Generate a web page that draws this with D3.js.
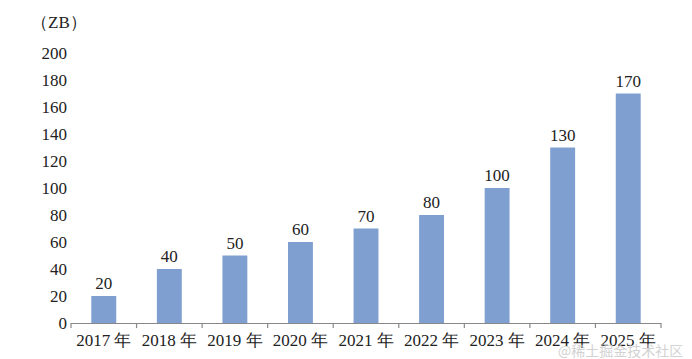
<!DOCTYPE html>
<html><head><meta charset="utf-8">
<script src="https://cdn.jsdelivr.net/npm/d3@7/dist/d3.min.js"></script>
<style>body{margin:0;background:#fff}
.sf{font-family:"Liberation Serif","Times New Roman",Times,"DejaVu Serif",serif;}
.wm{font-family:"Noto Sans CJK SC",sans-serif;}
</style>
</head><body>
<svg id="chart" width="692" height="359"></svg>
<script>
const categories = ["2017 年","2018 年","2019 年","2020 年","2021 年","2022 年","2023 年","2024 年","2025 年"];
const values = [20,40,50,60,70,80,100,130,170];
const yTicks = [0,20,40,60,80,100,120,140,160,180,200];
const unitLabel = "（ZB）";
const watermark = "@稀土掘金技术社区";

(function () {
const svg = d3.select("#chart");
const mLeft = 71, mRight = 661, mTop = 53, mBottom = 323;

const x = d3.scaleBand().domain(categories).range([mLeft, mRight]).paddingInner(0.62).paddingOuter(0.31);
const y = d3.scaleLinear().domain([0, 200]).range([mBottom, mTop]);

svg.append("g").selectAll("text").data(yTicks).join("text").attr("class", "sf")
  .attr("x", mLeft - 4).attr("y", d => y(d)).attr("dy", "0.35em")
  .attr("text-anchor", "end").attr("font-size", 17)
  .attr("fill", "#222").text(d => d);

svg.append("text").attr("class", "sf").attr("x", 31).attr("y", 28)
  .attr("font-size", 17).attr("fill", "#222").text(unitLabel);

svg.append("g").selectAll("rect").data(values).join("rect")
  .attr("x", (d, i) => x(categories[i])).attr("width", x.bandwidth())
  .attr("y", d => y(d)).attr("height", d => y(0) - y(d))
  .attr("fill", "#7f9fd1");

svg.append("g").selectAll("text").data(values).join("text").attr("class", "sf")
  .attr("x", (d, i) => x(categories[i]) + x.bandwidth() / 2)
  .attr("y", d => y(d) - 7).attr("text-anchor", "middle")
  .attr("font-size", 17).attr("fill", "#222").text(d => d);

const axis = svg.append("g");
axis.append("line").attr("x1", mLeft).attr("x2", mRight).attr("y1", mBottom + 0.5).attr("y2", mBottom + 0.5)
  .attr("stroke", "#888").attr("stroke-width", 1.2);
const boundaries = d3.range(categories.length + 1).map(i => mLeft + i * (mRight - mLeft) / categories.length);
axis.selectAll("line.t").data(boundaries).join("line").attr("class", "t")
  .attr("x1", d => d).attr("x2", d => d).attr("y1", mBottom).attr("y2", mBottom + 5)
  .attr("stroke", "#888").attr("stroke-width", 1.2);
axis.selectAll("text").data(categories).join("text").attr("class", "sf")
  .attr("x", d => x(d) + x.bandwidth() / 2).attr("y", 346)
  .attr("text-anchor", "middle").attr("font-size", 17)
  .attr("fill", "#222").text(d => d);

svg.append("text").attr("class", "wm").attr("x", 558).attr("y", 356)
  .attr("font-size", 14).attr("fill", "#c8c8c8").attr("opacity", 0.8).text(watermark);
})();
</script>
</body></html>
